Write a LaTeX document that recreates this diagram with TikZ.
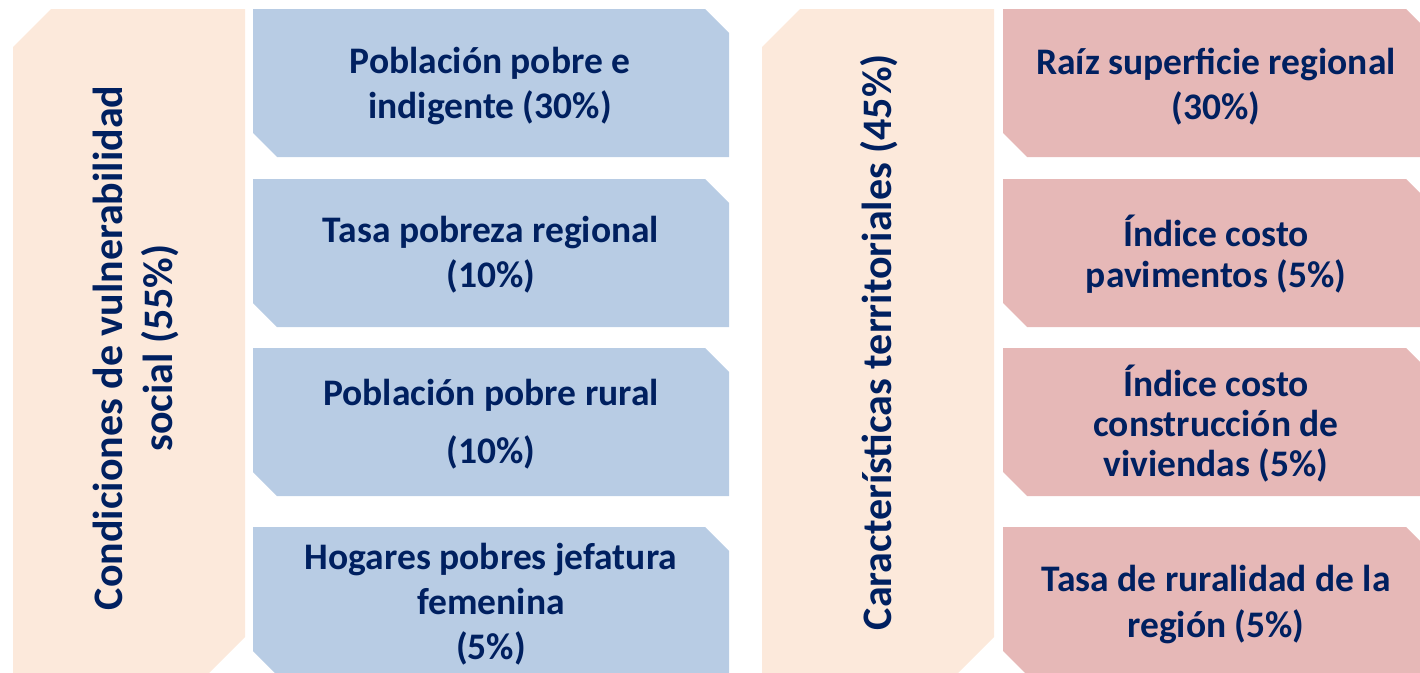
\documentclass[tikz,border=0pt]{standalone}
\usepackage{fontspec}
\setmainfont{Carlito}
\definecolor{peachc}{HTML}{FCE9DB}
\definecolor{bluec}{HTML}{B8CCE4}
\definecolor{redc}{HTML}{E6B8B7}
\definecolor{navy}{HTML}{002060}
\tikzset{
  peachbox/.style={fill=peachc},
  bluebox/.style={fill=bluec},
  redbox/.style={fill=redc},
  lbl/.style={text=navy, font=\bfseries\fontsize{37.5}{45}\selectfont, align=center, inner sep=0pt},
  vlbl/.style={text=navy, font=\bfseries\fontsize{42}{50}\selectfont, align=center, inner sep=0pt, rotate=90}
}
\begin{document}
\begin{tikzpicture}[x=1pt,y=-1pt]
\useasboundingbox (0,0) rectangle (1420,672);
\clip (0,0) rectangle (1420,672);
% peach columns
\fill[peachbox] (13,47) -- (51,9) -- (245,9) -- (245,637) -- (207,675) -- (13,675) -- cycle;
\fill[peachbox] (762,47) -- (800,9) -- (994,9) -- (994,637) -- (956,675) -- (762,675) -- cycle;
% blue boxes
\foreach \ya/\yb in {9/157, 179/327, 348/496, 527/675}{
  \fill[bluebox] (253,\ya) -- (705,\ya) -- (729,\ya+24) -- (729,\yb) -- (277,\yb) -- (253,\yb-24) -- cycle;
}
% red boxes
\foreach \ya/\yb in {9/157, 179/327, 348/496, 527/675}{
  \fill[redbox] (1003,\ya) -- (1406,\ya) -- (1430,\ya+24) -- (1430,\yb) -- (1027,\yb) -- (1003,\yb-24) -- cycle;
}
% labels
\node[vlbl] (cond) at (136,348) {Condiciones de vulnerabilidad\\social (55\%)};
\node[vlbl] (car) at (879,342) {Características territoriales (45\%)};
\node[lbl] (b1) at (490,86) {Población pobre e\\indigente (30\%)};
\node[lbl] (b2) at (491,255) {Tasa pobreza regional\\(10\%)};
\node[lbl, font=\bfseries\fontsize{37.5}{58}\selectfont] (b3) at (491,424) {Población pobre rural\\(10\%)};
\node[lbl] (b4) at (491,604) {Hogares pobres jefatura\\femenina\\(5\%)};
\node[lbl] (r1) at (1216,87) {Raíz superficie regional\\(30\%)};
\node[lbl, font=\bfseries\fontsize{37.5}{41}\selectfont] (r2) at (1216,254) {Índice costo\\pavimentos (5\%)};
\node[lbl, font=\bfseries\fontsize{37.5}{40}\selectfont] (r3) at (1216,424) {Índice costo\\construcción de\\viviendas (5\%)};
\node[lbl, font=\bfseries\fontsize{37.5}{46}\selectfont] (r4) at (1216,605) {Tasa de ruralidad de la\\región (5\%)};
\end{tikzpicture}
\end{document}
